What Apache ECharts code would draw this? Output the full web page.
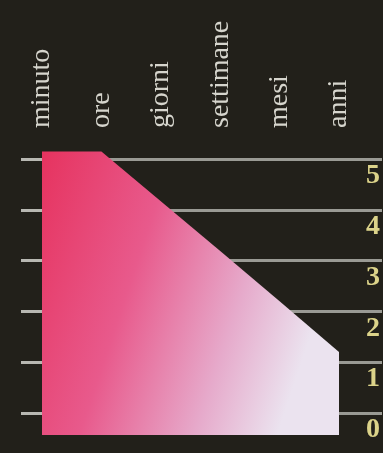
<!DOCTYPE html>
<html>
<head>
<meta charset="utf-8">
<script src="https://cdn.jsdelivr.net/npm/echarts@6/dist/echarts.min.js"></script>
<style>
  html, body { margin: 0; padding: 0; background: #22201a; }
  #chart { width: 383px; height: 453px; }
</style>
</head>
<body>
<div id="chart"></div>
<script>
// Time spans along the horizontal axis
const categories = ['minuto', 'ore', 'giorni', 'settimane', 'mesi', 'anni'];
// Level reached at each time span
const levels = [5.15, 5.15, 4.17, 3.19, 2.2, 1.2];
// Scale labels on the right
const scaleLabels = ['0', '1', '2', '3', '4', '5'];

const W = 383, H = 453;
const plotLeft = 42;
const lineTop = 159, lineBottom = 413;           // rows for levels 5 and 0
const unitY = (lineBottom - lineTop) / 5;
const areaTop = 140, areaBottom = 435;
const unitX = 59.4;

const yMin = -(areaBottom - lineBottom) / unitY;
const yMax = (lineBottom - areaTop) / unitY;
const xMax = (W - plotLeft) / unitX;

const chart = echarts.init(document.getElementById('chart'), null, { renderer: 'canvas' });

chart.setOption({
  backgroundColor: '#22201a',
  animation: false,
  grid: [
    { left: plotLeft, right: 0, top: areaTop, bottom: H - areaBottom },
    { left: plotLeft, right: 0, top: lineTop, bottom: H - lineBottom }
  ],
  xAxis: [
    {
      gridIndex: 0,
      type: 'value',
      position: 'top',
      min: 0,
      max: xMax,
      interval: 1,
      axisLine: { show: false },
      axisTick: { show: false },
      splitLine: { show: false },
      axisLabel: {
        rotate: 90,
        margin: 12,
        showMaxLabel: false,
        color: '#d6d5cd',
        fontFamily: 'Liberation Serif',
        fontSize: 28,
        formatter: v => (Number.isInteger(v) && categories[v]) ? categories[v] : ''
      }
    },
    { gridIndex: 1, type: 'value', min: 0, max: xMax, show: false }
  ],
  yAxis: [
    { gridIndex: 0, type: 'value', min: yMin, max: yMax, show: false },
    {
      gridIndex: 1,
      type: 'value',
      position: 'left',
      offset: 4,
      min: 0,
      max: 5,
      interval: 1,
      axisLine: { show: false },
      axisTick: { show: true, length: 21, lineStyle: { color: '#b8b8b2', width: 3 } },
      axisLabel: { show: false },
      splitLine: { show: true, lineStyle: { color: '#9a9a94', width: 3 } }
    },
    {
      gridIndex: 1,
      type: 'value',
      position: 'right',
      min: 0,
      max: 5,
      interval: 1,
      axisLine: { show: false },
      axisTick: { show: false },
      splitLine: { show: false },
      axisLabel: {
        inside: true,
        margin: 9,
        align: 'center',
        verticalAlign: 'top',
        padding: [3, 0, 0, 0],
        lineHeight: 28,
        color: '#dcd38a',
        fontFamily: 'Liberation Serif',
        fontWeight: 'bold',
        fontSize: 28,
        formatter: v => scaleLabels[v] ?? ''
      }
    }
  ],
  series: [
    {
      type: 'line',
      xAxisIndex: 0,
      yAxisIndex: 0,
      data: levels.map((v, i) => [i, v]),
      symbol: 'none',
      lineStyle: { width: 0 },
      areaStyle: {
        origin: 'start',
        opacity: 1,
        color: new echarts.graphic.LinearGradient(0, 0, 1, 0.35, [
          { offset: 0, color: '#e6335f' },
          { offset: 0.4, color: '#e85a8c' },
          { offset: 0.75, color: '#e6aacb' },
          { offset: 1, color: '#ebe3ef' }
        ])
      },
      z: 3
    }
  ]
});
</script>
</body>
</html>
